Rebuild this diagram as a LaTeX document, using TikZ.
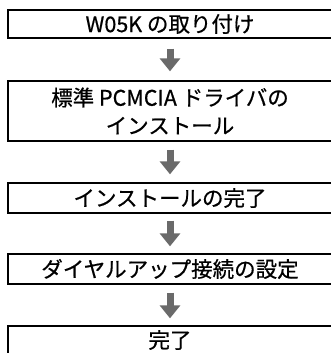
\documentclass[tikz,border=0pt]{standalone}
\usepackage{fontspec}
\setmainfont{Noto Sans CJK JP}[FakeBold=0.6]
\usetikzlibrary{arrows.meta}
\definecolor{arrowgray}{HTML}{6A6A6A}
\tikzset{
  stepbox/.style={draw=black, line width=1.3pt, rectangle, minimum width=324pt,
    inner sep=2pt, align=center, font=\fontsize{21.5pt}{28pt}\selectfont},
  flowarrow/.style={draw=arrowgray, line width=7pt,
    -{Triangle[width=20pt,length=13pt]}, arrowgray}
}
\begin{document}
\begin{tikzpicture}[x=1pt,y=1pt]
\useasboundingbox (0,0) rectangle (331,353);
\node[stepbox, minimum height=28pt] (b1) at (170,329) {W05K の取り付け};
\node[stepbox, minimum height=60pt] (b2) at (170,242) {標準 PCMCIA ドライバの\\インストール};
\node[stepbox, minimum height=30pt] (b3) at (170,155) {インストールの完了};
\node[stepbox, minimum height=30pt] (b4) at (170,84) {ダイヤルアップ接続の設定};
\node[stepbox, minimum height=28pt] (b5) at (170,13) {完了};
\draw[flowarrow] ([yshift=-10pt]b1.south) -- ([yshift=9pt]b2.north);
\draw[flowarrow] ([yshift=-8pt]b2.south) -- ([yshift=8pt]b3.north);
\draw[flowarrow] ([yshift=-7pt]b3.south) -- ([yshift=7pt]b4.north);
\draw[flowarrow] ([yshift=-8pt]b4.south) -- ([yshift=7pt]b5.north);
\end{tikzpicture}
\end{document}
